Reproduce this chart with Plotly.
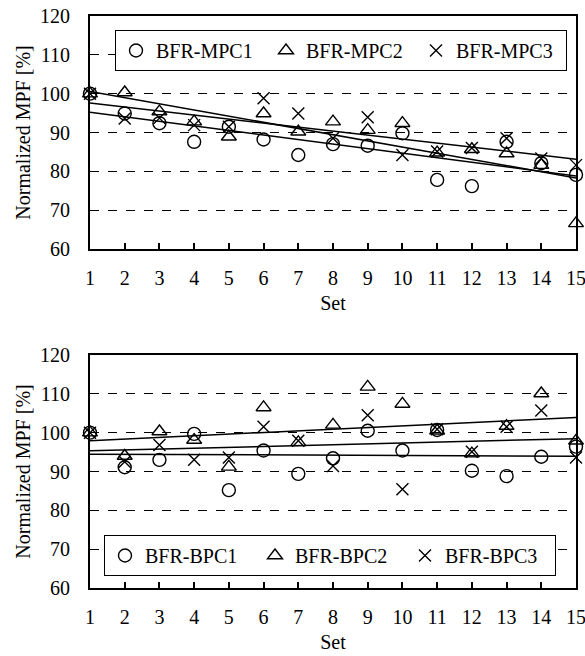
import numpy as np
import plotly.graph_objects as go

sets = list(range(1, 16))

mpc1 = [100, 94.9, 92.4, 87.6, 91.5, 88.2, 84.2, 87.0, 86.6, 89.8, 77.8, 76.2, 87.6, 82.1, 79.1]
mpc2 = [100, 100.3, 95.4, 92.8, 88.9, 94.9, 90.2, 92.8, 90.6, 92.4, 84.8, 85.7, 84.6, 81.6, 66.6]
mpc3 = [100, 93.6, 93.7, 91.9, 91.5, 98.8, 94.9, 88.5, 93.9, 84.2, 85.1, 86.0, 88.5, 83.3, 81.6]

bpc1 = [100, 91.1, 93.0, 99.7, 85.2, 95.4, 89.4, 93.4, 100.5, 95.4, 100.7, 90.2, 88.8, 93.8, 96.4]
bpc2 = [100, 94.0, 100.3, 98.1, 91.2, 106.5, 97.5, 102.0, 111.8, 107.4, 100.5, 94.6, 101.7, 110.1, 97.9]
bpc3 = [100, 92.5, 96.8, 93.0, 93.6, 101.5, 97.9, 91.4, 104.5, 85.4, 100.9, 95.1, 101.5, 105.7, 93.6]

yticks = [60, 70, 80, 90, 100, 110, 120]
xticks = sets

top_names = ["BFR-MPC1", "BFR-MPC2", "BFR-MPC3"]
bot_names = ["BFR-BPC1", "BFR-BPC2", "BFR-BPC3"]
symbols = ["circle-open", "triangle-up-open", "x-thin-open"]
sizes = [13, 13, 12]

FONT = "Liberation Serif, Times New Roman, serif"
FS = 20

W, H = 585, 656
L, R, T, B = 90, 9, 16, 68
PH = H - T - B
PW = W - L - R

fig = go.Figure()

def add_group(series, names, xa, ya, legend):
    x = np.array(sets, dtype=float)
    for s, n, sym, sz in zip(series, names, symbols, sizes):
        fig.add_trace(go.Scatter(
            x=sets, y=s, mode="markers", name=n, xaxis=xa, yaxis=ya, legend=legend,
            cliponaxis=False,
            marker=dict(symbol=sym, size=sz, color="black",
                        line=dict(color="black", width=1.4)),
        ))
    for s in series:
        k, b = np.polyfit(x, np.array(s, dtype=float), 1)
        fig.add_trace(go.Scatter(
            x=[sets[0], sets[-1]], y=[k * sets[0] + b, k * sets[-1] + b],
            mode="lines", line=dict(color="black", width=1.5),
            showlegend=False, xaxis=xa, yaxis=ya, hoverinfo="skip",
        ))

add_group([mpc1, mpc2, mpc3], top_names, "x", "y", "legend")
add_group([bpc1, bpc2, bpc3], bot_names, "x2", "y2", "legend2")

bottom_px = H - B
top_dom = [(bottom_px - 249) / PH, 1.0]
bot_dom = [0.0, (bottom_px - 355) / PH]

def xaxis(anchor):
    return dict(
        range=[1, 15], tickvals=xticks, ticks="inside", ticklen=6, tickwidth=1.5,
        tickcolor="black", showgrid=False, zeroline=False, automargin=False,
        ticklabeloverflow="allow",
        showline=True, linecolor="black", linewidth=2, mirror=True,
        tickfont=dict(family=FONT, size=FS, color="black"),
        title=dict(text="Set", font=dict(family=FONT, size=FS, color="black"), standoff=8),
        anchor=anchor, ticklabelstandoff=10,
    )

def yaxis(dom, anchor):
    return dict(
        range=[60, 120], tickvals=yticks, domain=dom, anchor=anchor, automargin=False,
        ticklabeloverflow="allow",
        showgrid=True, gridcolor="black", griddash="dash", gridwidth=1.2,
        zeroline=False, showline=True, linecolor="black", linewidth=2, mirror=True,
        tickfont=dict(family=FONT, size=FS, color="black"), ticklabelstandoff=14,
        title=dict(text="Normalized MPF [%]", font=dict(family=FONT, size=FS, color="black"), standoff=4),
    )

legend_common = dict(
    orientation="h", bordercolor="black", borderwidth=1, bgcolor="white",
    font=dict(family=FONT, size=FS, color="black"), xanchor="left", yanchor="top",
    itemwidth=30, entrywidth=105, entrywidthmode="pixels", tracegroupgap=0,
)

fig.update_layout(
    width=W, height=H,
    margin=dict(l=L, r=R, t=T, b=B, autoexpand=False),
    plot_bgcolor="white", paper_bgcolor="white",
    xaxis=xaxis("y"), yaxis=yaxis(top_dom, "x"),
    xaxis2=xaxis("y2"), yaxis2=yaxis(bot_dom, "x2"),
    legend=dict(x=(115 - L) / PW, y=(bottom_px - 30) / PH, **legend_common),
    legend2=dict(x=(104 - L) / PW, y=(bottom_px - 535) / PH, **legend_common),
    showlegend=True,
)

fig.write_html(
    "out.html",
    config={"displayModeBar": False},
    post_script="document.body.style.margin='0px';document.body.style.overflow='hidden';",
)
